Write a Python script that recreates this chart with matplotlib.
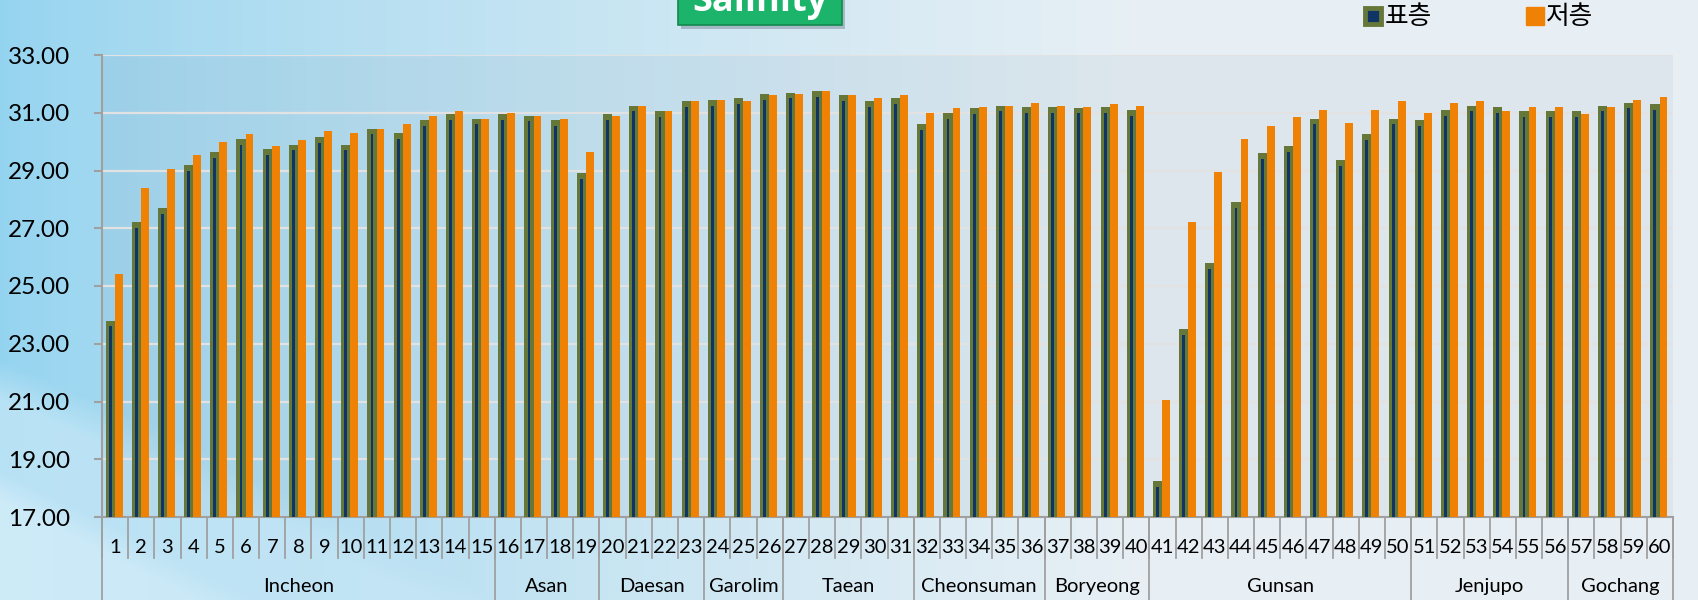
import numpy as np
import matplotlib
matplotlib.use("Agg")
import matplotlib.pyplot as plt
from matplotlib.patches import Rectangle
from matplotlib.lines import Line2D

plt.rcParams['font.family'] = ['Lato', 'Noto Sans CJK KR', 'DejaVu Sans']

# station numbers and surface / bottom salinity
stations = list(range(1, 61))
surface = [23.8, 27.2, 27.7, 29.2, 29.65, 30.1, 29.75, 29.9, 30.15, 29.9,
           30.45, 30.3, 30.75, 30.95, 30.8, 30.95, 30.9, 30.75, 28.9, 30.95,
           31.25, 31.05, 31.4, 31.45, 31.5, 31.65, 31.7, 31.75, 31.6, 31.4,
           31.5, 30.6, 31.0, 31.15, 31.25, 31.2, 31.2, 31.18, 31.2, 31.1,
           18.25, 23.5, 25.8, 27.9, 29.6, 29.85, 30.8, 29.35, 30.25, 30.8,
           30.75, 31.1, 31.25, 31.2, 31.05, 31.05, 31.05, 31.25, 31.35, 31.3]
bottom = [25.4, 28.4, 29.05, 29.55, 30.0, 30.25, 29.85, 30.05, 30.38, 30.3,
          30.45, 30.6, 30.9, 31.05, 30.8, 31.0, 30.88, 30.8, 29.65, 30.9,
          31.25, 31.05, 31.4, 31.45, 31.4, 31.6, 31.65, 31.75, 31.6, 31.5,
          31.6, 31.0, 31.15, 31.2, 31.25, 31.35, 31.22, 31.2, 31.3, 31.25,
          21.05, 27.2, 28.95, 30.1, 30.55, 30.85, 31.1, 30.65, 31.1, 31.4,
          31.0, 31.35, 31.4, 31.05, 31.2, 31.2, 30.95, 31.2, 31.45, 31.55]
regions = ['Incheon', 'Asan', 'Daesan', 'Garolim', 'Taean', 'Cheonsuman',
           'Boryeong', 'Gunsan', 'Jenjupo', 'Gochang']
region_sizes = [15, 4, 4, 3, 5, 5, 4, 10, 6, 4]
yticks = [17, 19, 21, 23, 25, 27, 29, 31, 33]
series_names = ['표층', '저층']

GREEN = '#66773a'
NAVY = '#0f3466'
ORANGE = '#ef8205'
GRAY = '#a0a0a0'

fig = plt.figure(figsize=(16.98, 6), dpi=100)

# background gradient with a light swoosh in the lower left
H, W = 600, 1698
yy, xx = np.mgrid[0:H, 0:W]
t = np.clip(xx / 1150.0, 0, 1) ** 0.75
left_col = np.array([0.58, 0.83, 0.94])
right_col = np.array([0.91, 0.94, 0.96])
bg = left_col[None, None, :] * (1 - t[..., None]) + right_col[None, None, :] * t[..., None]
curve1 = 360 + 0.42 * xx + 0.00012 * xx ** 2
mask1 = np.clip((yy - curve1) / 40.0, 0, 1) * (1 - np.clip(xx / 900.0, 0, 1))
bg = bg * (1 - 0.5 * mask1[..., None]) + 0.5 * mask1[..., None] * np.array([0.86, 0.94, 0.98])
curve2 = 470 + 0.5 * xx
mask2 = np.clip((yy - curve2) / 30.0, 0, 1) * (1 - np.clip(xx / 600.0, 0, 1))
bg = bg * (1 - 0.4 * mask2[..., None]) + 0.4 * mask2[..., None] * np.array([0.93, 0.97, 0.99])
bgax = fig.add_axes([0, 0, 1, 1], zorder=-10)
bgax.imshow(bg, aspect='auto', extent=(0, 1, 0, 1))
bgax.axis('off')

ax = fig.add_axes([102 / 1698, 1 - 517 / 600, (1673 - 102) / 1698, 462 / 600])
ax.set_facecolor((0.35, 0.45, 0.55, 0.07))

x = np.array(stations, dtype=float)
sv = np.array(surface)
bv = np.array(bottom)
ax.bar(x - 0.19, sv - 17, bottom=17, width=0.35, color=GREEN, zorder=3)
ax.bar(x - 0.19, sv - 17.2, bottom=17, width=0.11, color=NAVY, zorder=4)
ax.bar(x + 0.135, bv - 17, bottom=17, width=0.3, color=ORANGE, zorder=3)

ax.set_xlim(0.5, 60.5)
ax.set_ylim(17, 33)
ax.set_yticks(yticks)
ax.set_yticklabels([f'{v:.2f}' for v in yticks], fontsize=17.5)
ax.yaxis.grid(True, color='#e2e2e2', linewidth=1.6, zorder=1)
ax.set_axisbelow(True)
ax.tick_params(axis='y', direction='out', length=6, width=1.5, color=GRAY, pad=17)
ax.set_xticks([])
for s in ['top', 'right']:
    ax.spines[s].set_visible(False)
ax.spines['left'].set_color(GRAY)
ax.spines['left'].set_linewidth(1.5)
ax.spines['bottom'].set_color(GRAY)
ax.spines['bottom'].set_linewidth(1.5)

# category axis: station numbers and region groups
tr = ax.get_xaxis_transform()
for s in stations:
    ax.text(s, -0.066, str(s), transform=tr, ha='center', va='center', fontsize=14.5)
for b in np.arange(0.5, 61, 1.0):
    ax.plot([b, b], [0, -0.089], transform=tr, color=GRAY, lw=1.3, clip_on=False)
edges = np.concatenate([[0.5], 0.5 + np.cumsum(region_sizes)])
for i, name in enumerate(regions):
    ax.plot([edges[i], edges[i]], [0, -0.2], transform=tr, color=GRAY, lw=1.3, clip_on=False)
    ax.text((edges[i] + edges[i + 1]) / 2, -0.15, name, transform=tr,
            ha='center', va='center', fontsize=14.5)
ax.plot([edges[-1], edges[-1]], [0, -0.2], transform=tr, color=GRAY, lw=1.3, clip_on=False)

# title box, cut by the top edge
fig.patches.append(Rectangle((681 / W, 1 - 29 / H), 164 / W, 0.1, transform=fig.transFigure,
                             facecolor='#7a8a99', alpha=0.5, edgecolor='none', zorder=1))
fig.patches.append(Rectangle((678 / W, 1 - 25 / H), 164 / W, 0.1, transform=fig.transFigure,
                             facecolor='#1cb46a', edgecolor='#12894e', lw=1.2, zorder=2))
fig.text(760 / W, 1 - 11 / H, 'Salinity', ha='center', va='baseline', color='white',
         fontsize=26, fontweight='bold', family=['Open Sans', 'DejaVu Sans'], zorder=3)

handles = [Line2D([], [], marker='s', linestyle='none', markersize=12, markerfacecolor=NAVY,
                  markeredgecolor=GREEN, markeredgewidth=3.5),
           Line2D([], [], marker='s', linestyle='none', markersize=13, markerfacecolor=ORANGE,
                  markeredgecolor=ORANGE)]
fig.legend(handles, series_names, loc='center', bbox_to_anchor=(1478 / W, 1 - 17 / H), ncol=2,
           frameon=False, fontsize=18.5, handletextpad=0.05, columnspacing=3.6, handlelength=0.8)

fig.savefig('out.png', dpi=100)
